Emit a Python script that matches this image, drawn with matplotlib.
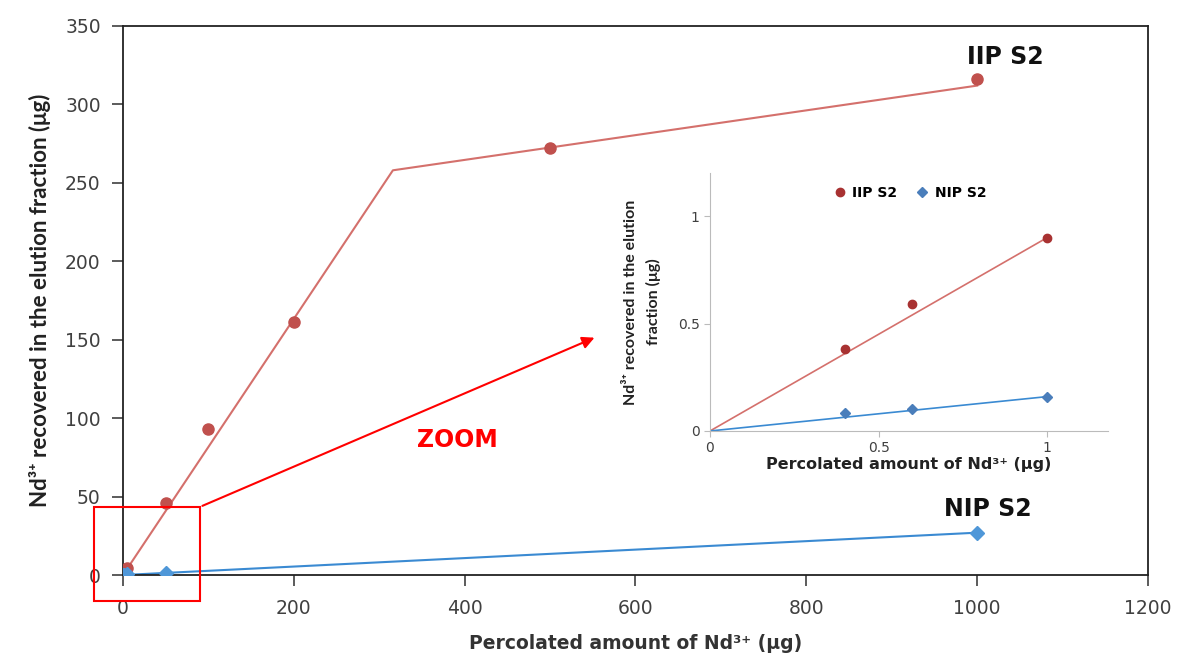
import numpy as np
import matplotlib.pyplot as plt
from matplotlib.patches import Rectangle

# main chart data
iip_x = [0.4, 0.6, 1, 5, 50, 100, 200, 500, 1000]
iip_y = [0.38, 0.59, 0.9, 4.5, 46, 93, 161, 272, 316]
nip_x = [0.4, 0.6, 1, 5, 50, 1000]
nip_y = [0.085, 0.1, 0.16, 0.6, 1, 27]

# trend lines
iip_fit_x = [0, 316, 1000]
iip_fit_y = [0, 258, 312]
nip_fit_x = [0, 1000]
nip_fit_y = [0, 27]

# inset (zoom) data
z_x = [0.4, 0.6, 1]
z_iip = [0.38, 0.59, 0.9]
z_nip = [0.085, 0.1, 0.16]
z_iip_fit = [0, 0.9]
z_nip_fit = [0, 0.16]

xlabel = 'Percolated amount of Nd³⁺ (μg)'
ylabel = 'Nd³⁺ recovered in the elution fraction (μg)'

red_mk = '#c0504d'
red_ln = '#d4706c'
blue_mk = '#4f97d8'
blue_ln = '#3a8ad2'
tick_c = '#404040'

fig = plt.figure(figsize=(11.79, 6.53), dpi=100)
ax = fig.add_axes([0.1043, 0.1194, 0.8694, 0.8408])

ax.plot(iip_fit_x, iip_fit_y, color=red_ln, lw=1.5, zorder=2)
ax.plot(nip_fit_x, nip_fit_y, color=blue_ln, lw=1.5, zorder=2)
ax.plot(iip_x, iip_y, 'o', color=red_mk, ms=8, zorder=3)
ax.plot(nip_x, nip_y, 'D', color=blue_mk, ms=7, zorder=3)

ax.set_xlim(0, 1200)
ax.set_ylim(0, 350)
ax.set_xticks(np.arange(0, 1201, 200))
ax.set_yticks(np.arange(0, 351, 50))
ax.tick_params(labelsize=13.5, colors=tick_c, length=8, width=1.2, labelcolor=tick_c)
ax.tick_params(axis='x', pad=9)
ax.tick_params(axis='y', pad=8)
for s in ax.spines.values():
    s.set_color('#222222')
    s.set_linewidth(1.3)

ax.set_xlabel(xlabel, fontsize=13.5, fontweight='bold', color='#333333', labelpad=12)
ax.set_ylabel(ylabel, fontsize=16, fontweight='bold', color='#222222', labelpad=10,
              family='Lato')

ax.text(1033, 330, 'IIP S2', fontsize=17, fontweight='bold', ha='center', va='center',
        color='#111111')
ax.text(1013, 42, 'NIP S2', fontsize=17, fontweight='bold', ha='center', va='center',
        color='#111111')

# zoom box and arrow
ax.add_patch(Rectangle((-34, -16.6), 124, 60, fill=False, edgecolor='red', lw=1.5,
                       clip_on=False, zorder=4))
ax.annotate('', xy=(555, 152), xytext=(90, 43.4),
            arrowprops=dict(arrowstyle='-|>', color='red', lw=1.5, mutation_scale=18),
            annotation_clip=False)
ax.text(391, 86, 'ZOOM', color='red', fontsize=17, fontweight='bold', ha='center',
        va='center')

# inset
ins = fig.add_axes([0.6022, 0.340, 0.3376, 0.395])
ins.patch.set_alpha(0)
ins.plot([0, 1], z_iip_fit, color=red_ln, lw=1.2)
ins.plot([0, 1], z_nip_fit, color=blue_ln, lw=1.2)
ins.plot(z_x, z_iip, 'o', color='#a83232', ms=6, label='IIP S2')
ins.plot(z_x, z_nip, 'D', color='#4a7ebb', ms=5, label='NIP S2')
ins.set_xlim(0, 1.18)
ins.set_ylim(0, 1.2)
ins.set_xticks([0, 0.5, 1])
ins.set_xticklabels(['0', '0.5', '1'])
ins.set_yticks([0, 0.5, 1])
ins.set_yticklabels(['0', '0.5', '1'])
ins.spines['top'].set_visible(False)
ins.spines['right'].set_visible(False)
for s in ('left', 'bottom'):
    ins.spines[s].set_color('#bbbbbb')
ins.tick_params(labelsize=10, colors='#bbbbbb', labelcolor=tick_c, length=4)
ins.set_xlabel(xlabel, fontsize=11.5, fontweight='bold', color='#222222', labelpad=1)
ins.set_ylabel('Nd³⁺ recovered in the elution\nfraction (μg)', fontsize=11.5,
               fontweight='bold', color='#222222', family='Lato', labelpad=12,
               linespacing=1.7)
ins.legend(loc='upper center', bbox_to_anchor=(0.5, 1.0), ncol=2, frameon=False,
           handletextpad=0.3, columnspacing=1.2, handlelength=1.2,
           prop={'weight': 'bold', 'size': 10})

fig.savefig('out.png', dpi=100)
